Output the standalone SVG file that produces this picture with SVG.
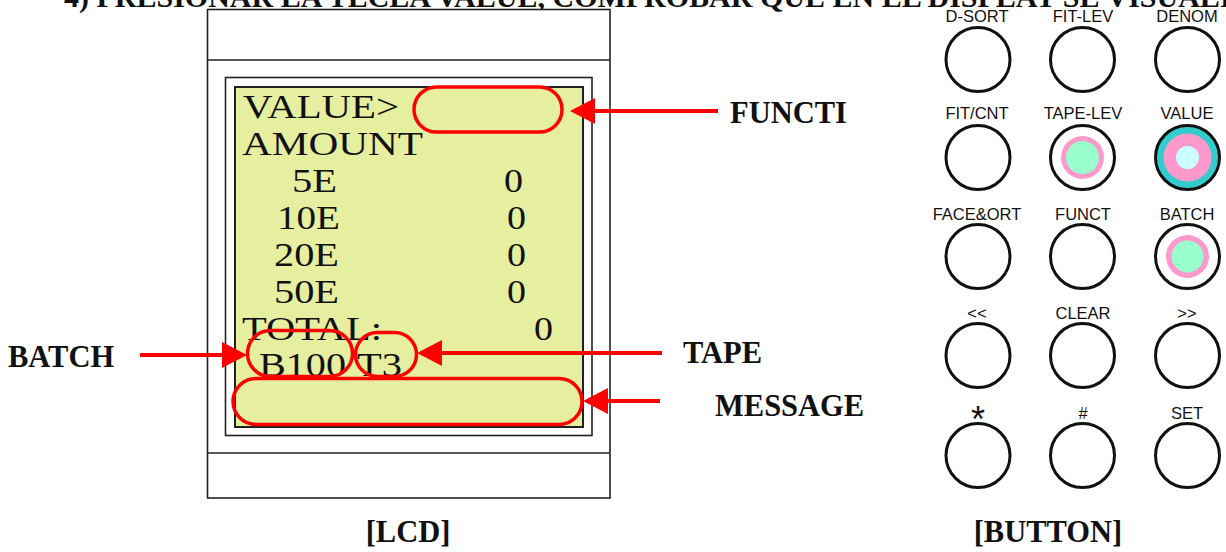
<svg xmlns="http://www.w3.org/2000/svg" width="1226" height="552" viewBox="0 0 1226 552">
<style>
.frame{fill:#fff;stroke:#222;stroke-width:1.6}
.lcd{fill:#E6EE9F;stroke:#222;stroke-width:2}
.lcdt{font-family:"Liberation Serif","Times New Roman",serif;font-size:33px;fill:#111}
.hl{fill:none;stroke:#FF0000;stroke-width:3.5}
.arr{stroke:#FF0000;stroke-width:4;fill:none}
.lab{font-family:"Liberation Serif","Times New Roman",serif;font-weight:bold;font-size:30.5px;fill:#111}
.btn{fill:#fff;stroke:#111;stroke-width:3}
.bl{font-family:"Liberation Sans",Arial,sans-serif;font-size:16.5px;fill:#111;text-anchor:middle}
</style>
<defs>
<marker id="ah" markerUnits="userSpaceOnUse" markerWidth="26" markerHeight="26" refX="0" refY="13" orient="auto" overflow="visible">
<path d="M0,0 L25,13 L0,26 z" fill="#FF0000"/>
</marker>
</defs>
<rect width="1226" height="552" fill="#fff"/>
<text x="64" y="7" font-family="'Liberation Serif','Times New Roman',serif" font-weight="bold" font-size="30" fill="#111">4) PRESIONAR LA TECLA VALUE, COMPROBAR QUE EN EL DISPLAY SE VISUALI</text>

<g id="lcd-panel">
<rect class="frame" x="207.5" y="9.5" width="402.5" height="488.5"/>
<line x1="207.5" y1="60" x2="610" y2="60" stroke="#222" stroke-width="1.6"/>
<line x1="207.5" y1="453" x2="610" y2="453" stroke="#222" stroke-width="1.6"/>
<rect class="frame" x="225.5" y="77.5" width="366.5" height="358"/>
<rect class="lcd" x="235" y="87" width="348" height="340"/>
<text class="lcdt" x="243" y="118" textLength="156" lengthAdjust="spacingAndGlyphs">VALUE&gt;</text>
<text class="lcdt" x="242" y="155" textLength="181" lengthAdjust="spacingAndGlyphs">AMOUNT</text>
<text class="lcdt" x="292" y="192" textLength="45" lengthAdjust="spacingAndGlyphs">5E</text>
<text class="lcdt" x="504" y="192" textLength="19" lengthAdjust="spacingAndGlyphs">0</text>
<text class="lcdt" x="277" y="229" textLength="63" lengthAdjust="spacingAndGlyphs">10E</text>
<text class="lcdt" x="507" y="229" textLength="19" lengthAdjust="spacingAndGlyphs">0</text>
<text class="lcdt" x="274" y="266" textLength="65" lengthAdjust="spacingAndGlyphs">20E</text>
<text class="lcdt" x="507" y="266" textLength="19" lengthAdjust="spacingAndGlyphs">0</text>
<text class="lcdt" x="274" y="303" textLength="65" lengthAdjust="spacingAndGlyphs">50E</text>
<text class="lcdt" x="507" y="303" textLength="19" lengthAdjust="spacingAndGlyphs">0</text>
<text class="lcdt" x="242" y="340" textLength="140" lengthAdjust="spacingAndGlyphs">TOTAL:</text>
<text class="lcdt" x="534" y="340" textLength="19" lengthAdjust="spacingAndGlyphs">0</text>
<text class="lcdt" x="259" y="376" textLength="87" lengthAdjust="spacingAndGlyphs">B100</text>
<text class="lcdt" x="357" y="376" textLength="45" lengthAdjust="spacingAndGlyphs">T3</text>
</g>

<g id="highlights">
<rect class="hl" x="414" y="87" width="148" height="45" rx="22.5"/>
<rect class="hl" x="247.5" y="330.5" width="105" height="46" rx="23"/>
<rect class="hl" x="355.5" y="332.5" width="61" height="44" rx="22"/>
<rect class="hl" x="233" y="378.5" width="349" height="46" rx="23"/>
</g>

<g id="connectors">
<line class="arr" x1="718" y1="111" x2="595" y2="111" marker-end="url(#ah)"/>
<line class="arr" x1="140" y1="355" x2="222" y2="355" marker-end="url(#ah)"/>
<line class="arr" x1="662" y1="353" x2="442" y2="353" marker-end="url(#ah)"/>
<line class="arr" x1="660" y1="401" x2="608" y2="401" marker-end="url(#ah)"/>
</g>

<g id="label-functi"><text class="lab" x="730" y="123">FUNCTI</text></g>
<g id="label-batch"><text class="lab" x="8" y="367">BATCH</text></g>
<g id="label-tape"><text class="lab" x="683" y="363">TAPE</text></g>
<g id="label-message"><text class="lab" x="715" y="416">MESSAGE</text></g>
<g id="caption-lcd"><text class="lab" x="408" y="542" text-anchor="middle">[LCD]</text></g>
<g id="caption-button"><text class="lab" x="1048" y="542" text-anchor="middle">[BUTTON]</text></g>

<g id="btn-dsort"><text class="bl" x="977" y="21.5">D-SORT</text><circle class="btn" cx="978" cy="59.5" r="32"/></g>
<g id="btn-fitlev"><text class="bl" x="1083" y="21.5">FIT-LEV</text><circle class="btn" cx="1082.5" cy="59.5" r="32"/></g>
<g id="btn-denom"><text class="bl" x="1187" y="21.5">DENOM</text><circle class="btn" cx="1187.5" cy="59.5" r="32"/></g>

<g id="btn-fitcnt"><text class="bl" x="977" y="119">FIT/CNT</text><circle class="btn" cx="978" cy="157.5" r="32"/></g>
<g id="btn-tapelev"><text class="bl" x="1083" y="119">TAPE-LEV</text><circle class="btn" cx="1082.5" cy="157.5" r="32"/><circle cx="1082.5" cy="157.5" r="21.5" fill="#FF99CC"/><circle cx="1082.5" cy="157.5" r="16.5" fill="#99FFCC"/></g>
<g id="btn-value"><text class="bl" x="1187" y="119">VALUE</text><circle cx="1187.5" cy="157.5" r="32" fill="#33CCCC" stroke="#111" stroke-width="3"/><circle cx="1187.5" cy="157.5" r="24" fill="#FF99CC"/><circle cx="1187.5" cy="157.5" r="11.5" fill="#CCFFFF"/></g>

<g id="btn-faceort"><text class="bl" x="977" y="220">FACE&amp;ORT</text><circle class="btn" cx="978" cy="256.5" r="32"/></g>
<g id="btn-funct"><text class="bl" x="1083" y="220">FUNCT</text><circle class="btn" cx="1082.5" cy="256.5" r="32"/></g>
<g id="btn-batch"><text class="bl" x="1187" y="220">BATCH</text><circle class="btn" cx="1187.5" cy="256.5" r="32"/><circle cx="1187.5" cy="256.5" r="21.5" fill="#FF99CC"/><circle cx="1187.5" cy="256.5" r="16" fill="#99FFCC"/></g>

<g id="btn-prev"><text class="bl" x="977" y="319">&lt;&lt;</text><circle class="btn" cx="978" cy="355.5" r="32"/></g>
<g id="btn-clear"><text class="bl" x="1083" y="319">CLEAR</text><circle class="btn" cx="1082.5" cy="355.5" r="32"/></g>
<g id="btn-next"><text class="bl" x="1187" y="319">&gt;&gt;</text><circle class="btn" cx="1187.5" cy="355.5" r="32"/></g>

<g id="btn-star"><text class="bl" x="978" y="432" style="font-size:36px">*</text><circle class="btn" cx="978" cy="455.5" r="32"/></g>
<g id="btn-hash"><text class="bl" x="1083" y="419">#</text><circle class="btn" cx="1082.5" cy="455.5" r="32"/></g>
<g id="btn-set"><text class="bl" x="1187" y="419">SET</text><circle class="btn" cx="1187.5" cy="455.5" r="32"/></g>
</svg>
